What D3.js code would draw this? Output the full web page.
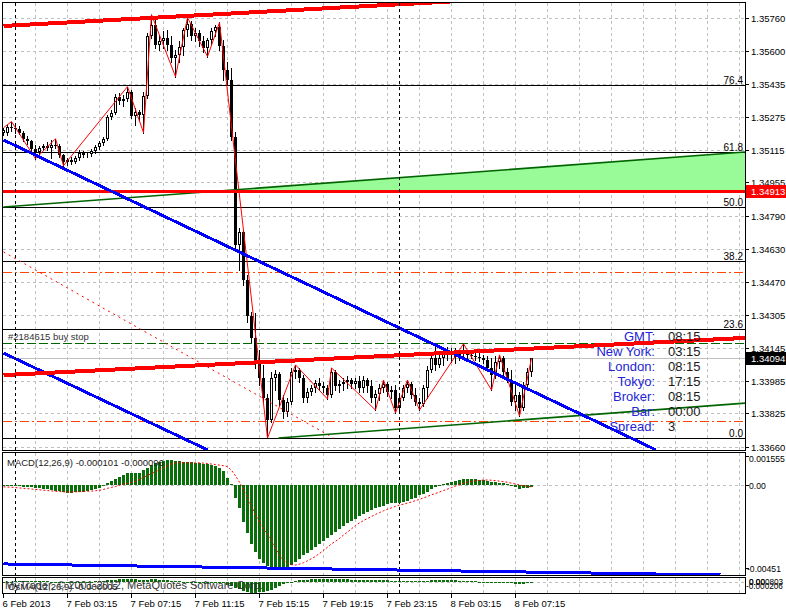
<!DOCTYPE html>
<html><head><meta charset="utf-8">
<script src="https://cdn.jsdelivr.net/npm/d3@7"></script>
<style>body{margin:0;background:#fff}svg{display:block}text{font-family:"Liberation Sans",Arial,sans-serif}</style>
</head><body><svg id="c" width="786" height="610"></svg>
<script>
// ---------- DATA ----------
const opens=[1.35199,1.35199,1.35228,1.35223,1.35218,1.35199,1.35169,1.35159,1.35120,1.35106,
1.35125,1.35135,1.35125,1.35140,1.35135,1.35091,1.35057,1.35066,1.35057,1.35076,
1.35101,1.35091,1.35096,1.35110,1.35130,1.35150,1.35169,1.35277,1.35297,1.35375,
1.35355,1.35365,1.35400,1.35282,1.35302,1.35287,1.35380,1.35674,1.35728,1.35630,
1.35645,1.35664,1.35630,1.35566,1.35581,1.35620,1.35703,1.35733,1.35674,1.35689,
1.35645,1.35615,1.35654,1.35698,1.35718,1.35625,1.35507,1.35458,1.35179,1.34650,
1.34714,1.34478,1.34302,1.34194,1.34077,1.33998,1.33900,1.33792,1.33998,1.34018,
1.33890,1.33832,1.33881,1.34028,1.34037,1.33998,1.33900,1.33930,1.33949,1.33974,
1.33959,1.33949,1.33915,1.34028,1.33959,1.33969,1.33979,1.33988,1.33969,1.33983,
1.33949,1.33988,1.33959,1.33900,1.33920,1.33949,1.33969,1.33930,1.33939,1.33851,
1.33900,1.33949,1.33969,1.33915,1.33881,1.33871,1.33949,1.34037,1.34096,1.34062,
1.34096,1.34126,1.34111,1.34126,1.34101,1.34116,1.34126,1.34111,1.34106,1.34101,
1.34096,1.34086,1.34047,1.34013,1.34077,1.34096,1.34028,1.33988,1.33881,1.33915,
1.33851,1.33964,1.34028];
const highs=[1.35223,1.35238,1.35253,1.35243,1.35233,1.35208,1.35184,1.35164,1.35140,1.35135,
1.35145,1.35155,1.35164,1.35169,1.35145,1.35096,1.35076,1.35081,1.35086,1.35115,
1.35110,1.35106,1.35120,1.35140,1.35159,1.35179,1.35287,1.35311,1.35390,1.35395,
1.35385,1.35424,1.35409,1.35321,1.35311,1.35400,1.35689,1.35777,1.35752,1.35679,
1.35694,1.35703,1.35674,1.35605,1.35645,1.35713,1.35762,1.35743,1.35713,1.35703,
1.35674,1.35664,1.35713,1.35728,1.35738,1.35654,1.35547,1.35517,1.35204,1.34733,
1.34723,1.34503,1.34322,1.34317,1.34135,1.34062,1.33920,1.34028,1.34037,1.34028,
1.33915,1.33900,1.34047,1.34062,1.34047,1.34013,1.33949,1.33964,1.33988,1.33998,
1.33979,1.33964,1.34047,1.34037,1.33988,1.33998,1.34008,1.33998,1.33998,1.34008,
1.34008,1.33998,1.33988,1.33939,1.33969,1.33988,1.33979,1.33959,1.33964,1.33915,
1.33964,1.33988,1.33979,1.33949,1.33900,1.33964,1.34057,1.34111,1.34160,1.34111,
1.34145,1.34150,1.34145,1.34145,1.34135,1.34165,1.34135,1.34126,1.34121,1.34121,
1.34111,1.34106,1.34096,1.34106,1.34111,1.34106,1.34047,1.34037,1.33964,1.33930,
1.33979,1.34047,1.34096];
const lows=[1.35189,1.35189,1.35208,1.35199,1.35194,1.35159,1.35145,1.35110,1.35071,1.35096,
1.35115,1.35115,1.35076,1.35125,1.35081,1.35037,1.35042,1.35047,1.35052,1.35066,
1.35081,1.35081,1.35086,1.35101,1.35120,1.35140,1.35164,1.35267,1.35292,1.35341,
1.35331,1.35355,1.35272,1.35238,1.35262,1.35199,1.35370,1.35664,1.35615,1.35605,
1.35615,1.35605,1.35547,1.35473,1.35547,1.35581,1.35674,1.35654,1.35645,1.35625,
1.35596,1.35571,1.35635,1.35674,1.35605,1.35458,1.35434,1.35164,1.34635,1.34527,
1.34454,1.34273,1.34175,1.34047,1.33964,1.33881,1.33704,1.33783,1.33939,1.33866,
1.33802,1.33812,1.33871,1.33998,1.33979,1.33881,1.33881,1.33915,1.33930,1.33939,
1.33930,1.33895,1.33905,1.33939,1.33930,1.33939,1.33949,1.33949,1.33949,1.33930,
1.33930,1.33930,1.33881,1.33841,1.33890,1.33930,1.33910,1.33900,1.33827,1.33841,
1.33890,1.33930,1.33900,1.33866,1.33841,1.33861,1.33900,1.34028,1.34037,1.34052,
1.34062,1.34086,1.34077,1.34072,1.34086,1.34101,1.34096,1.34096,1.34086,1.34081,
1.34072,1.34037,1.33939,1.33998,1.34047,1.34003,1.33979,1.33866,1.33841,1.33812,
1.33841,1.33939,1.34008];
const closes=[1.35213,1.35228,1.35223,1.35218,1.35199,1.35169,1.35159,1.35120,1.35106,1.35125,
1.35135,1.35125,1.35140,1.35135,1.35091,1.35057,1.35066,1.35057,1.35076,1.35101,
1.35091,1.35096,1.35110,1.35130,1.35150,1.35169,1.35277,1.35297,1.35375,1.35355,
1.35365,1.35400,1.35282,1.35302,1.35287,1.35380,1.35674,1.35728,1.35630,1.35645,
1.35664,1.35630,1.35566,1.35581,1.35620,1.35703,1.35733,1.35674,1.35689,1.35645,
1.35615,1.35654,1.35698,1.35718,1.35625,1.35507,1.35458,1.35179,1.34650,1.34714,
1.34478,1.34302,1.34194,1.34077,1.33998,1.33900,1.33792,1.33998,1.34018,1.33890,
1.33832,1.33881,1.34028,1.34037,1.33998,1.33900,1.33930,1.33949,1.33974,1.33959,
1.33949,1.33915,1.34028,1.33959,1.33969,1.33979,1.33988,1.33969,1.33983,1.33949,
1.33988,1.33959,1.33900,1.33920,1.33949,1.33969,1.33930,1.33939,1.33851,1.33900,
1.33949,1.33969,1.33915,1.33881,1.33871,1.33949,1.34037,1.34096,1.34062,1.34096,
1.34126,1.34111,1.34126,1.34101,1.34116,1.34126,1.34111,1.34106,1.34101,1.34096,
1.34086,1.34047,1.34013,1.34077,1.34096,1.34028,1.33988,1.33881,1.33915,1.33851,
1.33964,1.34028,1.34094];

const zigzag=[[0,1.35223],[2,1.35253],[8,1.35071],[13,1.35169],[15,1.35037],[31,1.35424],[35,1.35199],
[37,1.35777],[43,1.35473],[46,1.35762],[51,1.35571],[54,1.35738],[66,1.33704],[73,1.34062],[81,1.33895],
[82,1.34047],[93,1.33841],[95,1.33988],[98,1.33827],[101,1.33988],[104,1.33841],[115,1.34165],
[122,1.33939],[124,1.34111],[129,1.33812],[132,1.34094]];

const macdHist=[-0.00005,-0.00005,-0.00006,-0.00007,-0.00008,-0.00009,-0.00010,-0.00012,-0.00014,
-0.00017,-0.00020,-0.00023,-0.00026,-0.00030,-0.00034,-0.00039,-0.00043,
-0.00042,-0.00040,-0.00038,-0.00036,-0.00033,-0.00028,-0.00022,-0.00014,
-0.00005,0.00010,0.00022,0.00035,0.00042,0.00055,0.00065,0.00066,0.00066,0.00068,0.00080,
0.00092,0.00108,0.00118,0.00124,0.00130,0.00134,0.00134,0.00130,0.00128,0.00127,0.00126,
0.00124,0.00122,0.00118,0.00116,0.00114,0.00110,0.00104,0.00094,0.00075,0.00040,0.00008,
-0.00070,-0.00125,-0.00200,-0.00260,-0.00320,-0.00365,-0.00400,-0.00425,-0.00440,-0.00448,-0.00451,-0.00451,
-0.00451,-0.00445,-0.00432,-0.00418,-0.00400,-0.00382,-0.00370,-0.00352,-0.00336,-0.00318,
-0.00302,-0.00288,-0.00270,-0.00255,-0.00238,-0.00222,-0.00207,-0.00196,-0.00182,-0.00167,
-0.00156,-0.00147,-0.00135,-0.00127,-0.00121,-0.00114,-0.00105,-0.00100,-0.00098,-0.00097,
-0.00092,-0.00086,-0.00077,-0.00068,-0.00056,-0.00047,-0.00038,-0.00024,-0.00012,-0.00003,
0.00005,0.00010,0.00015,0.00020,0.00026,0.00030,0.00033,0.00033,0.00031,0.00028,
0.00025,0.00022,0.00018,0.00015,0.00013,0.00011,0.00008,-0.00004,-0.00012,-0.00020,
-0.00018,-0.00014,-0.00010];
const macdSignal=[-0.00010,-0.00011,-0.00012,-0.00014,-0.00016,-0.00018,-0.00020,-0.00022,-0.00024,
-0.00026,-0.00028,-0.00030,-0.00032,-0.00034,-0.00035,-0.00037,-0.00038,
-0.00038,-0.00037,-0.00036,-0.00035,-0.00034,-0.00033,-0.00031,-0.00029,
-0.00024,-0.00018,-0.00013,-0.00008,-0.00002,0.00004,0.00009,0.00014,0.00020,0.00030,0.00042,
0.00052,0.00062,0.00072,0.00083,0.00094,0.00105,0.00115,0.00120,0.00121,0.00121,0.00121,
0.00120,0.00120,0.00120,0.00119,0.00117,0.00114,0.00111,0.00108,0.00105,0.00100,0.00080,
0.00050,0.00015,-0.00025,-0.00070,-0.00115,-0.00160,-0.00205,-0.00240,-0.00265,-0.00300,-0.00340,-0.00380,
-0.00410,-0.00425,-0.00433,-0.00435,-0.00430,-0.00422,-0.00412,-0.00400,-0.00388,-0.00372,
-0.00355,-0.00338,-0.00320,-0.00306,-0.00290,-0.00272,-0.00256,-0.00238,-0.00220,-0.00206,
-0.00193,-0.00182,-0.00171,-0.00160,-0.00150,-0.00140,-0.00132,-0.00124,-0.00116,-0.00109,
-0.00104,-0.00098,-0.00092,-0.00085,-0.00078,-0.00070,-0.00062,-0.00053,-0.00046,-0.00038,
-0.00030,-0.00022,-0.00014,-0.00006,0.00002,0.00010,0.00016,0.00020,0.00023,0.00025,
0.00027,0.00027,0.00026,0.00024,0.00021,0.00018,0.00015,0.00010,0.00005,0.00000,
-0.00004,-0.00007,-0.00010];
const osmaValues=[0.00005,0.00006,0.00006,0.00007,0.00008,0.00009,0.00010,0.00010,0.00010,
0.00009,0.00008,0.00007,0.00006,0.00004,0.00001,-0.00002,-0.00005,
-0.00004,-0.00003,-0.00002,-0.00001,0.00001,0.00005,0.00009,0.00015,
0.00019,0.00028,0.00035,0.00043,0.00044,0.00051,0.00056,0.00052,0.00046,0.00038,0.00038,
0.00040,0.00046,0.00046,0.00041,0.00036,0.00029,0.00019,0.00010,0.00007,0.00006,0.00005,
0.00004,0.00002,-0.00002,-0.00003,-0.00003,-0.00004,-0.00007,-0.00014,-0.00030,-0.00060,-0.00072,
-0.00120,-0.00140,-0.00175,-0.00190,-0.00205,-0.00205,-0.00195,-0.00185,-0.00175,-0.00148,-0.00111,-0.00071,
-0.00041,-0.00020,0.00001,0.00017,0.00030,0.00040,0.00042,0.00048,0.00052,0.00054,
0.00053,0.00050,0.00050,0.00051,0.00052,0.00050,0.00049,0.00042,0.00038,0.00039,
0.00037,0.00035,0.00036,0.00033,0.00029,0.00026,0.00027,0.00024,0.00018,0.00012,
0.00012,0.00012,0.00015,0.00017,0.00022,0.00023,0.00024,0.00029,0.00034,0.00035,
0.00035,0.00032,0.00029,0.00026,0.00024,0.00020,0.00017,0.00013,0.00008,0.00003,
-0.00002,-0.00005,-0.00008,-0.00010,-0.00012,-0.00015,-0.00020,-0.00028,-0.00035,-0.00040,
-0.00036,-0.00028,-0.00015];

const priceTicks=[1.35760,1.35600,1.35435,1.35275,1.35115,1.34955,1.34790,1.34630,1.34470,1.34305,1.34145,1.33985,1.33825,1.33660];
const timeLabels=["6 Feb 2013","7 Feb 03:15","7 Feb 07:15","7 Feb 11:15","7 Feb 15:15","7 Feb 19:15","7 Feb 23:15","8 Feb 03:15","8 Feb 07:15"];
const timeLabelIdx=[0,16,32,48,64,80,96,112,128];
const daySeparatorIdx=[3,99];
const fibLevels=[0,23.6,38.2,50,61.8,76.4];
const fibLow=1.33704, fibHigh=1.35966;
const fibDiagonal=[[0,1.34615],[82.5,1.33704]];
const redChannel=[[[0,1.35721],[185.5,1.35920]],[[0,1.34012],[185.5,1.34194]]];
const blueChannel=[[[0,1.35163],[163,1.33647]],[[0,1.34120],[51,1.33646]]];
const greenUpper=[[0,1.34835],[185.5,1.35104]];
const greenLower=[[68.75,1.33704],[185.5,1.33875]];
const redLevel=1.34913, bidPrice=1.34094, buyStop=1.34169;
const orangeLevels=[1.34517,1.33787];
const macdBlueLine=[[0,-0.00429],[179.25,-0.00489]];
const macdAxis=[["0.001555",0.001555],["0.00",0],["-0.00451",-0.00451]];
const osmaAxis=[["0.000803",585],["0.00",585],["-0.000206",589]];
const infoLabels=["GMT:","New York:","London:","Tokyo:","Broker:","Bar:","Spread:"];
const infoValues=["08:15","03:15","08:15","17:15","08:15","00:00","3"];

// ---------- LAYOUT ----------
const svg=d3.select('#c');
const x=d3.scaleLinear().domain([0,185.5]).range([3.5,745.5]);
const y=d3.scaleLinear().domain([1.33660,1.35760]).range([447,18]);
const yM=d3.scaleLinear().domain([-0.00451,0.001555]).range([568,456.4]);
const yO=d3.scaleLinear().domain([-0.00206,0.000803]).range([593,577.5]);
const hp=v=>Math.round(v)+0.5;
const defs=svg.append('defs');
function clip(id,x0,y0,w,h){defs.append('clipPath').attr('id',id).append('rect').attr('x',x0).attr('y',y0).attr('width',w).attr('height',h);}
clip('cm',3,3,742,447); clip('cd',3,453,742,122); clip('co',3,578,742,15);
svg.append('rect').attr('width',786).attr('height',610).attr('fill','#fff');

const gMain=svg.append('g').attr('clip-path','url(#cm)');
const gMacd=svg.append('g').attr('clip-path','url(#cd)');
const gOsma=svg.append('g').attr('clip-path','url(#co)');

function vgrid(g,y0,y1){for(let k=8;k<=184;k+=8){g.append('line').attr('x1',x(k)).attr('x2',x(k)).attr('y1',y0).attr('y2',y1)
 .attr('stroke','#c0c0c0').attr('stroke-dasharray','3,3').attr('shape-rendering','crispEdges');}}
function hline(g,yy,stroke,w,dash){const l=g.append('line').attr('x1',3).attr('x2',745).attr('y1',yy).attr('y2',yy)
 .attr('stroke',stroke).attr('stroke-width',w).attr('shape-rendering','crispEdges'); if(dash) l.attr('stroke-dasharray',dash); return l;}
function seg(g,pts,sy,stroke,w,extra){const l=g.append('line').attr('x1',x(pts[0][0])).attr('y1',sy(pts[0][1]))
 .attr('x2',x(pts[1][0])).attr('y2',sy(pts[1][1])).attr('stroke',stroke).attr('stroke-width',w); if(extra) extra(l); return l;}

// main grid
priceTicks.forEach(p=>hline(gMain,hp(y(p)),'#c0c0c0',1,'3,3'));
vgrid(gMain,3,450);

// green fill between green upper line and red level
const gAt=i=>greenUpper[0][1]+(greenUpper[1][1]-greenUpper[0][1])*(i-greenUpper[0][0])/(greenUpper[1][0]-greenUpper[0][0]);
const iCross=greenUpper[0][0]+(redLevel-greenUpper[0][1])/(greenUpper[1][1]-greenUpper[0][1])*(greenUpper[1][0]-greenUpper[0][0]);
gMain.append('path').attr('fill','#98fb98')
 .attr('d',d3.line()([[x(iCross),y(redLevel)],[x(185.5),y(gAt(185.5))],[x(185.5),y(redLevel)]]));

// fib levels
fibLevels.forEach(f=>{const p=fibLow+(fibHigh-fibLow)*f/100; const yy=hp(y(p));
 hline(gMain,yy,'#000',1);
 gMain.append('text').attr('x',743).attr('y',yy-2).attr('text-anchor','end').attr('font-size',10).attr('fill','#000').text(f.toFixed(1));});
// orange dash-dot
orangeLevels.forEach(p=>hline(gMain,hp(y(p)),'#ff4500',1,'9,3,2,3'));
// buy stop
hline(gMain,hp(y(buyStop)),'#006400',1,'9,3');
gMain.append('text').attr('x',8).attr('y',hp(y(buyStop))-4).attr('font-size',9.5).attr('fill','#333').text('#2184615 buy stop');
// bid line
hline(gMain,hp(y(bidPrice)),'#c0c0c0',1);

// candles
const gc=gMain.append('g');
closes.forEach((c,i)=>{const o=opens[i],h=highs[i],l=lows[i],xc=x(i);
 gc.append('line').attr('x1',xc).attr('x2',xc).attr('y1',Math.round(y(h))).attr('y2',Math.round(y(l))+1).attr('stroke','#000').attr('shape-rendering','crispEdges');
 let t=Math.round(y(Math.max(o,c))), b=Math.round(y(Math.min(o,c))); if(b<=t) b=t+1;
 if(c>=o){gc.append('rect').attr('x',xc-1).attr('y',t+0.5).attr('width',2).attr('height',Math.max(0,b-t-1)).attr('fill','#fff').attr('stroke','#000').attr('shape-rendering','crispEdges');}
 else{gc.append('rect').attr('x',xc-1.5).attr('y',t).attr('width',3).attr('height',b-t).attr('fill','#000').attr('shape-rendering','crispEdges');}
});
// zigzag
gMain.append('path').attr('fill','none').attr('stroke','#ff0000').attr('stroke-width',1)
 .attr('d',d3.line().x(d=>x(d[0])).y(d=>y(d[1]))(zigzag));
// fib diagonal
seg(gMain,fibDiagonal,y,'#ff0000',1,l=>l.attr('stroke-dasharray','2,4'));
// green channel
seg(gMain,greenUpper,y,'#006400',1.6);
seg(gMain,greenLower,y,'#006400',1.6);
// red level
hline(gMain,y(redLevel),'#ff0000',3);
// blue channel
blueChannel.forEach(s=>seg(gMain,s,y,'#0000ff',3,l=>l.attr('shape-rendering','crispEdges')));
// red channel
redChannel.forEach(s=>seg(gMain,s,y,'#ff0000',4,l=>l.attr('shape-rendering','crispEdges')));

// day separators
function seps(g,y0,y1){daySeparatorIdx.forEach(k=>g.append('line').attr('x1',x(k)).attr('x2',x(k)).attr('y1',y0).attr('y2',y1)
 .attr('stroke','#000').attr('stroke-dasharray','3,3').attr('shape-rendering','crispEdges'));}
seps(gMain,3,450);

// info block
infoLabels.forEach((t,k)=>{const yy=341+15*k;
 svg.append('text').attr('x',655).attr('y',yy).attr('text-anchor','end').attr('font-size',13).attr('fill','#2424d8').text(t);
 svg.append('text').attr('x',668).attr('y',yy).attr('font-size',13).attr('fill','#1a1a1a').text(infoValues[k]);});

// ---------- MACD ----------
hline(gMacd,hp(yM(0)),'#c0c0c0',1,'3,3');
vgrid(gMacd,453,575);
seps(gMacd,453,575);
macdHist.forEach((v,i)=>{const y0=Math.round(yM(0)),y1=Math.round(yM(v));
 gMacd.append('rect').attr('x',x(i)-1.5).attr('y',Math.min(y0,y1)).attr('width',3).attr('height',Math.max(1,Math.abs(y1-y0)))
  .attr('fill','#0a6e0a').attr('shape-rendering','crispEdges');});
gMacd.append('path').attr('fill','none').attr('stroke','#ff0000').attr('stroke-dasharray','2,2')
 .attr('d',d3.line().x((d,i)=>x(i)).y(d=>yM(d))(macdSignal));
seg(gMacd,macdBlueLine,yM,'#0000ff',3,l=>l.attr('shape-rendering','crispEdges'));
svg.append('text').attr('x',7).attr('y',466).attr('font-size',9.5).attr('fill','#222').text('MACD(12,26,9) -0.000101 -0.000096');

// ---------- OsMA ----------
hline(gOsma,hp(yO(0)),'#c0c0c0',1,'3,3');
vgrid(gOsma,578,593);
seps(gOsma,578,593);
osmaValues.forEach((v,i)=>{const y0=Math.round(yO(0)),y1=Math.round(yO(v));
 gOsma.append('rect').attr('x',x(i)-1.5).attr('y',Math.min(y0,y1)).attr('width',3).attr('height',Math.max(1,Math.abs(y1-y0)))
  .attr('fill','#0a6e0a').attr('shape-rendering','crispEdges');});
svg.append('text').attr('x',8).attr('y',590).attr('font-size',9.5).attr('fill','#222').text('OsMA(12,26,9) -0.000005');
svg.append('text').attr('x',5).attr('y',589).attr('font-size',11).attr('fill','#333').text('MyTrader, © 2001-2012, MetaQuotes Software Corp.');

// ---------- borders ----------
[[2.5,2.5,743,448],[2.5,452.5,743,123],[2.5,577.5,743,16]].forEach(r=>svg.append('rect').attr('x',r[0]).attr('y',r[1]).attr('width',r[2]).attr('height',r[3])
 .attr('fill','none').attr('stroke','#000').attr('shape-rendering','crispEdges'));

// ---------- right axis ----------
priceTicks.forEach(p=>{const yy=hp(y(p));
 svg.append('line').attr('x1',746).attr('x2',749).attr('y1',yy).attr('y2',yy).attr('stroke','#000').attr('shape-rendering','crispEdges');
 svg.append('text').attr('x',751).attr('y',yy+3.5).attr('font-size',9.5).attr('fill','#000').text(p.toFixed(5));});
function priceBox(p,bg,fg){const yy=hp(y(p));
 svg.append('rect').attr('x',746).attr('y',yy-6.5).attr('width',40).attr('height',13).attr('fill',bg);
 svg.append('text').attr('x',751).attr('y',yy+3.5).attr('font-size',9.5).attr('fill',fg).text(p.toFixed(5));}
priceBox(redLevel,'#ff0000','#fff');
priceBox(bidPrice,'#000','#fff');
macdAxis.forEach(([t,v])=>{const yy=hp(yM(v));
 svg.append('line').attr('x1',746).attr('x2',749).attr('y1',yy).attr('y2',yy).attr('stroke','#000');
 svg.append('text').attr('x',t.startsWith('-')?747:749).attr('y',Math.max(yy+3.5,462)).attr('font-size',8.6).attr('fill','#000').text(t);});
osmaAxis.forEach(([t,yy])=>svg.append('text').attr('x',t.startsWith('-')?746:749).attr('y',yy).attr('font-size',8.2).attr('fill','#000').text(t));

// ---------- time axis ----------
timeLabelIdx.forEach((k,j)=>{const xx=x(k);
 svg.append('line').attr('x1',xx).attr('x2',xx).attr('y1',593).attr('y2',598).attr('stroke','#000').attr('shape-rendering','crispEdges');
 svg.append('text').attr('x',xx-1).attr('y',607).attr('font-size',9.5).attr('fill','#000').text(timeLabels[j]);});
</script></body></html>
